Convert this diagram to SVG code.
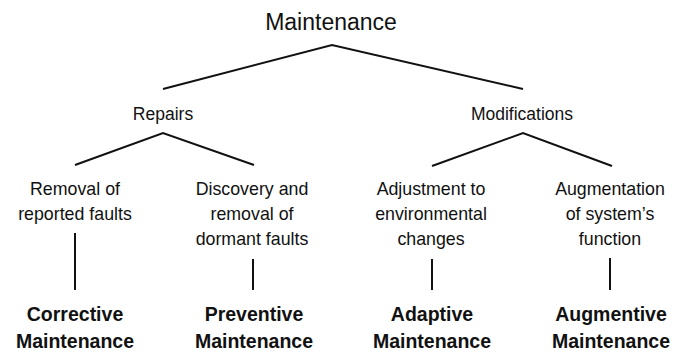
<svg xmlns="http://www.w3.org/2000/svg" width="677" height="353" viewBox="0 0 677 353">
  <style>
    .t { font-family: "Liberation Sans", Arial, sans-serif; fill: #111; text-anchor: middle; }
    .root { font-size: 23px; }
    .mid { font-size: 17.5px; }
    .desc { font-size: 17.8px; }
    .leaf { font-size: 19.5px; font-weight: bold; }
    .edge { stroke: #111; stroke-width: 2; fill: none; stroke-linejoin: miter; }
  </style>
  <rect width="677" height="353" fill="#fff"/>

  <g id="connectors">
    <polyline class="edge" points="163,89 332,45 523,89"/>
    <polyline class="edge" points="75,165 163,133 254,165"/>
    <polyline class="edge" points="432,166 523,133 612,166"/>
    <line class="edge" x1="75" y1="233" x2="75" y2="290"/>
    <line class="edge" x1="253" y1="259" x2="253" y2="290"/>
    <line class="edge" x1="432" y1="259" x2="432" y2="290"/>
    <line class="edge" x1="610" y1="258" x2="610" y2="290"/>
  </g>

  <g id="maintenance">
    <text class="t root" x="331" y="30">Maintenance</text>
  </g>

  <g id="repairs">
    <text class="t mid" x="163" y="120">Repairs</text>
  </g>
  <g id="modifications">
    <text class="t mid" x="522" y="120">Modifications</text>
  </g>

  <g id="removal-reported">
    <text class="t desc" x="75" y="195">Removal of</text>
    <text class="t desc" x="75" y="219.5">reported faults</text>
  </g>
  <g id="discovery-dormant">
    <text class="t desc" x="252" y="194.5">Discovery and</text>
    <text class="t desc" x="252" y="219.5">removal of</text>
    <text class="t desc" x="252" y="245">dormant faults</text>
  </g>
  <g id="adjustment">
    <text class="t desc" x="431" y="194.5">Adjustment to</text>
    <text class="t desc" x="431" y="219.5">environmental</text>
    <text class="t desc" x="431" y="245">changes</text>
  </g>
  <g id="augmentation">
    <text class="t desc" x="610" y="194.5">Augmentation</text>
    <text class="t desc" x="610" y="219.5">of system’s</text>
    <text class="t desc" x="610" y="245">function</text>
  </g>

  <g id="corrective">
    <text class="t leaf" x="75" y="321">Corrective</text>
    <text class="t leaf" x="75" y="348">Maintenance</text>
  </g>
  <g id="preventive">
    <text class="t leaf" x="254" y="321">Preventive</text>
    <text class="t leaf" x="254" y="348">Maintenance</text>
  </g>
  <g id="adaptive">
    <text class="t leaf" x="432" y="321">Adaptive</text>
    <text class="t leaf" x="432" y="348">Maintenance</text>
  </g>
  <g id="augmentive">
    <text class="t leaf" x="611" y="321">Augmentive</text>
    <text class="t leaf" x="611" y="348">Maintenance</text>
  </g>
</svg>
